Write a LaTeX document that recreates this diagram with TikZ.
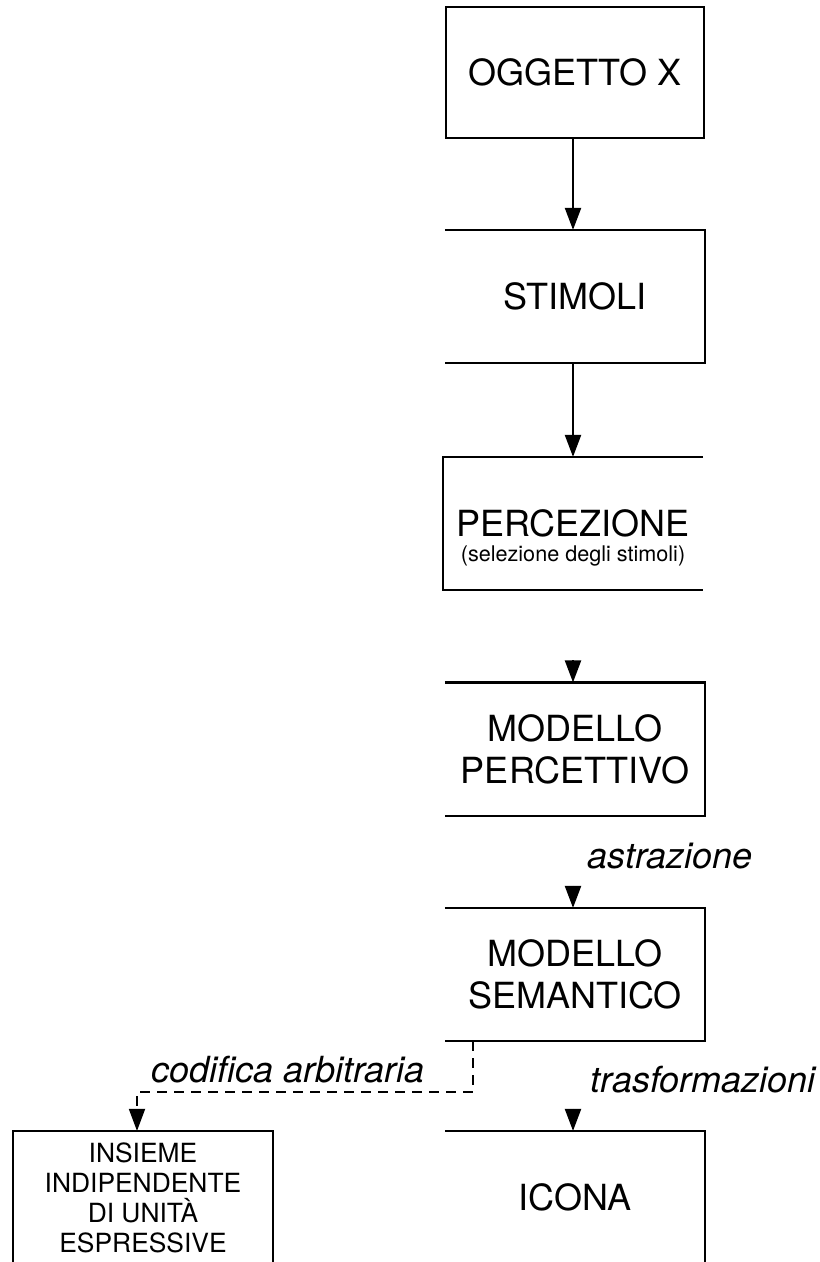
\documentclass[tikz,border=0pt]{standalone}
\usepackage{fontspec}
\setmainfont{TeX Gyre Heros}
\usetikzlibrary{arrows.meta}

\tikzset{
  box/.style={minimum width=129pt, minimum height=65.5pt, inner sep=0pt, align=center,
    font=\fontsize{18}{21}\selectfont},
  smallbox/.style={box, font=\fontsize{13.2}{15}\selectfont},
  flow/.style={-{Triangle[length=11pt,width=8pt]}},
  lab/.style={font=\fontsize{18}{21}\selectfont\itshape},
}

\begin{document}
\begin{tikzpicture}[x=0.5pt, y=-0.5pt, line width=1.1pt]
  \useasboundingbox (0,0) rectangle (819,1262);
  % chain of models
  \node[box, draw] (oggetto) at (575,72.5) {OGGETTO X};
  \node[box] (stimoli) at (575,296.5) {STIMOLI};
  \node[box] (percezione) at (573,523.5) {PERCEZIONE};
  \node[font=\fontsize{10.8}{12}\selectfont] (selezione) at (573,556) {(selezione degli stimoli)};
  \node[box] (percettivo) at (575,749) {MODELLO\\PERCETTIVO};
  \node[box] (semantico) at (575,974.5) {MODELLO\\SEMANTICO};
  \node[box] (icona) at (575,1197.5) {ICONA};
  \node[smallbox] (insieme) at (143,1197.5) {INSIEME\\INDIPENDENTE\\DI UNITÀ\\ESPRESSIVE};
  % open frames
  \foreach \n in {stimoli, percettivo, semantico} {
    \draw (\n.north west) -- (\n.north east) -- (\n.south east) -- (\n.south west);
  }
  \draw (percezione.north east) -- (percezione.north west) -- (percezione.south west) -- (percezione.south east);
  \draw (icona.south east) -- (icona.north east) -- (icona.north west);
  \draw (insieme.south west) -- (insieme.north west) -- (insieme.north east) -- (insieme.south east);
  % arrows
  \draw[flow] (oggetto.south -| 573,0) -- (stimoli.north -| 573,0);
  \draw[flow] (stimoli.south -| 573,0) -- (percezione.north -| 573,0);
  \coordinate (percettivo-in) at ([yshift=11pt]percettivo.north -| 573,0);
  \coordinate (semantico-in) at ([yshift=11pt]semantico.north -| 573,0);
  \coordinate (icona-in) at ([yshift=11pt]icona.north -| 573,0);
  \draw[flow] (percettivo-in) -- (percettivo.north -| 573,0);
  \draw[flow] (semantico-in) -- (semantico.north -| 573,0);
  \draw[flow] (icona-in) -- (icona.north -| 573,0);
  \coordinate (split) at (473,1092);
  \draw[flow, dash pattern=on 5pt off 3.5pt, line width=0.9pt]
    (split |- semantico.south) -- (split) -| ([xshift=-3pt]insieme.north);
  % labels
  \node[lab] (astrazione) at (670,856) {astrazione};
  \node[lab] (codifica) at (288,1070) {codifica arbitraria};
  \node[lab] (trasformazioni) at (703,1080) {trasformazioni};
\end{tikzpicture}
\end{document}
